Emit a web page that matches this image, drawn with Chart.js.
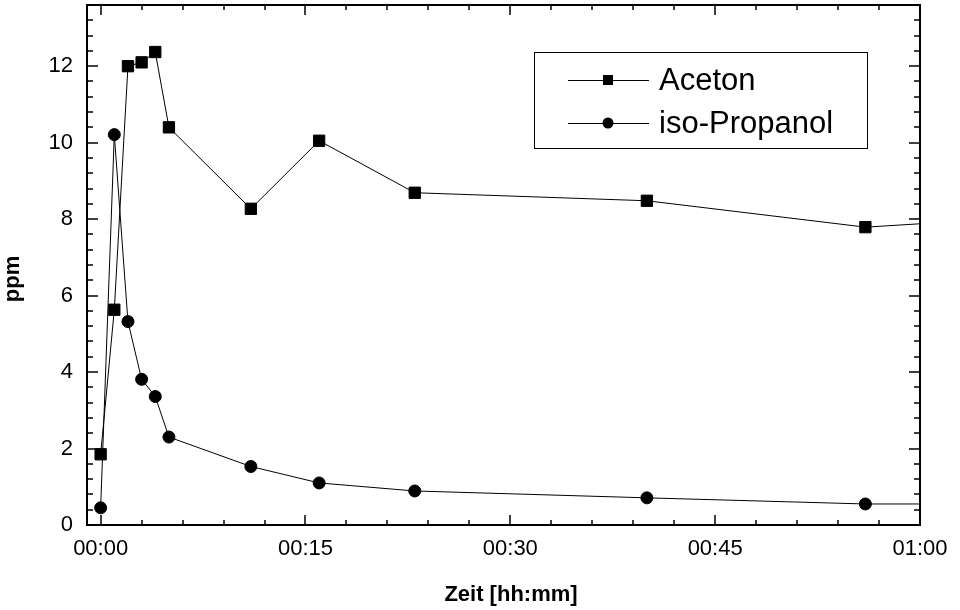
<!DOCTYPE html>
<html>
<head>
<meta charset="utf-8">
<script src="https://cdn.jsdelivr.net/npm/chart.js@4.4.0/dist/chart.umd.min.js"></script>
<style>
  html, body { margin: 0; padding: 0; background: #fff; }
</style>
</head>
<body>
<canvas id="ppmChart" width="960" height="610"></canvas>
<script>
// Zeit in Minuten seit Start (letzter Punkt liegt knapp rechts der Achse)
const minutes = [0, 1, 2, 3, 4, 5, 11, 16, 23, 40, 56, 61];
const aceton = [1.85, 5.63, 12.0, 12.1, 12.37, 10.4, 8.27, 10.05, 8.69, 8.48, 7.79, 7.9];
const isoPropanol = [0.45, 10.21, 5.32, 3.81, 3.36, 2.3, 1.53, 1.1, 0.89, 0.71, 0.55, 0.55];
const xTicks = [0, 15, 30, 45, 60];
const yTicks = [0, 2, 4, 6, 8, 10, 12];

const family = '"Liberation Sans", Arial, sans-serif';

function hhmm(v) {
  const h = Math.floor(v / 60);
  const m = v % 60;
  return String(h).padStart(2, '0') + ':' + String(m).padStart(2, '0');
}

// Rahmen + Haupt-/Nebenstriche nach innen, auf allen vier Seiten
const frameTicks = {
  id: 'frameTicks',
  afterDraw(chart) {
    const { ctx, chartArea: a, scales: { x, y } } = chart;
    ctx.save();
    ctx.strokeStyle = '#000';
    ctx.lineWidth = 1.5;
    const seg = (x1, y1, x2, y2) => { ctx.beginPath(); ctx.moveTo(x1, y1); ctx.lineTo(x2, y2); ctx.stroke(); };
    for (let m = 0; m <= 60; m += 3) {
      const px = Math.round(x.getPixelForValue(m));
      const len = m % 15 === 0 ? 10 : 5;
      seg(px, a.bottom, px, a.bottom - len);
      seg(px, a.top, px, a.top + len);
    }
    for (let i = 0; i <= 34; i++) {
      const py = Math.round(y.getPixelForValue(i * 0.4));
      const len = i % 5 === 0 ? 11 : 6;
      seg(a.left, py, a.left + len, py);
      seg(a.right, py, a.right - len, py);
    }
    ctx.lineWidth = 2;
    ctx.strokeRect(a.left, a.top, a.right - a.left, a.bottom - a.top);

    // Achsentitel
    ctx.fillStyle = '#000';
    ctx.font = 'bold 22px ' + family;
    ctx.textAlign = 'center';
    ctx.textBaseline = 'middle';
    ctx.fillText('Zeit [hh:mm]', 511, 595);
    ctx.translate(13, 279);
    ctx.rotate(-Math.PI / 2);
    ctx.fillText('ppm', 0, 0);
    ctx.restore();
  }
};

// Legende im Diagramm, mit Rahmen
const boxLegend = {
  id: 'boxLegend',
  afterDraw(chart) {
    const ctx = chart.ctx;
    ctx.save();
    ctx.strokeStyle = '#000';
    ctx.fillStyle = '#000';
    ctx.lineWidth = 1;
    ctx.strokeRect(534.5, 52.5, 333, 96);
    const rows = [80, 123];
    chart.data.datasets.forEach((ds, i) => {
      const yy = rows[i];
      ctx.beginPath();
      ctx.moveTo(568, yy + 0.5);
      ctx.lineTo(649, yy + 0.5);
      ctx.stroke();
      if (ds.pointStyle === 'rect') {
        ctx.fillRect(603, yy - 5, 10, 10);
      } else {
        ctx.beginPath();
        ctx.arc(608, yy, 5.5, 0, Math.PI * 2);
        ctx.fill();
      }
      ctx.font = '31px ' + family;
      ctx.textBaseline = 'middle';
      ctx.fillText(ds.label, 659, yy + 1);
    });
    ctx.restore();
  }
};

const ctx = document.getElementById('ppmChart');

new Chart(ctx, {
  type: 'scatter',
  data: {
    datasets: [{
      label: 'Aceton',
      data: minutes.map((m, i) => ({ x: m, y: aceton[i] })),
      showLine: true,
      borderColor: '#000',
      borderWidth: 1,
      pointStyle: 'rect',
      pointRadius: 8,
      pointBackgroundColor: '#000',
      pointBorderColor: '#000',
      pointBorderWidth: 1,
      clip: 0
    }, {
      label: 'iso-Propanol',
      data: minutes.map((m, i) => ({ x: m, y: isoPropanol[i] })),
      showLine: true,
      borderColor: '#000',
      borderWidth: 1,
      pointStyle: 'circle',
      pointRadius: 6,
      pointBackgroundColor: '#000',
      pointBorderColor: '#000',
      pointBorderWidth: 1,
      clip: 0
    }]
  },
  options: {
    responsive: false,
    animation: false,
    layout: { autoPadding: false, padding: { top: 5, right: 40, left: 0, bottom: 0 } },
    plugins: {
      legend: { display: false },
      tooltip: { enabled: false }
    },
    scales: {
      x: {
        type: 'linear',
        min: -1,
        max: 60,
        grid: { display: false, drawTicks: false },
        border: { display: false },
        afterBuildTicks: s => { s.ticks = xTicks.map(v => ({ value: v })); },
        afterFit: s => { s.height = 85; s.paddingLeft = 0; s.paddingRight = 0; },
        ticks: {
          color: '#000',
          font: { family: family, size: 22 },
          padding: 11,
          maxRotation: 0,
          autoSkip: false,
          callback: v => hhmm(v)
        }
      },
      y: {
        min: 0,
        max: 13.6,
        grid: { display: false, drawTicks: false },
        border: { display: false },
        afterBuildTicks: s => { s.ticks = yTicks.map(v => ({ value: v })); },
        afterFit: s => { s.width = 87; s.paddingTop = 0; s.paddingBottom = 0; },
        ticks: {
          color: '#000',
          font: { family: family, size: 22 },
          padding: 14
        }
      }
    }
  },
  plugins: [frameTicks, boxLegend]
});
</script>
</body>
</html>
